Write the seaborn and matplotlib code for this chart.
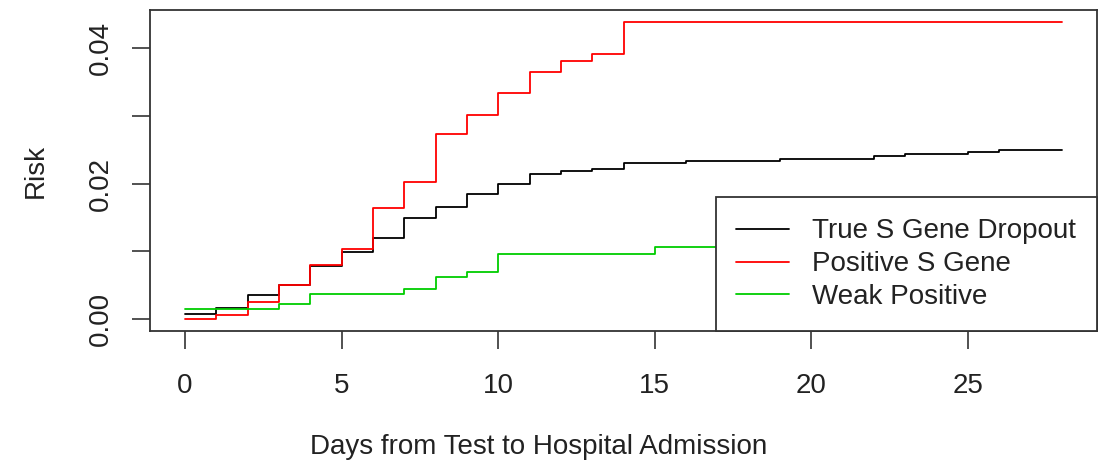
import numpy as np
import pandas as pd
import matplotlib
matplotlib.use("Agg")
import matplotlib.pyplot as plt
import seaborn as sns

days = list(range(0, 29))
series_names = ["True S Gene Dropout", "Positive S Gene", "Weak Positive"]
true_dropout = [0.00074, 0.0016, 0.0036, 0.0051, 0.0079, 0.0099, 0.0120, 0.0149,
                0.0166, 0.0184, 0.0200, 0.0214, 0.0218, 0.0221, 0.0230, 0.0230,
                0.0234, 0.0234, 0.0234, 0.0236, 0.0236, 0.0236, 0.0240, 0.0243,
                0.0243, 0.0247, 0.0250, 0.0250, 0.0250]
positive_s = [0.0000, 0.0006, 0.00255, 0.0051, 0.0080, 0.0103, 0.0164, 0.0203,
              0.0273, 0.0301, 0.0334, 0.0364, 0.0381, 0.0391, 0.0438, 0.0438,
              0.0438, 0.0438, 0.0438, 0.0438, 0.0438, 0.0438, 0.0438, 0.0438,
              0.0438, 0.0438, 0.0438, 0.0438, 0.0438]
weak_positive = [0.00143, 0.00143, 0.00143, 0.00217, 0.00365, 0.00365, 0.00365, 0.00443,
                 0.00624, 0.00698, 0.0096, 0.0096, 0.0096, 0.0096, 0.0096, 0.01067,
                 0.01067, 0.01067, 0.01067, 0.01067, 0.01067, 0.01067, 0.01067, 0.01067,
                 0.01067, 0.01067, 0.01067, 0.01067, 0.01067]
y_ticks = [0.00, 0.01, 0.02, 0.03, 0.04]
y_tick_labels = ["0.00", "", "0.02", "", "0.04"]
x_ticks = [0, 5, 10, 15, 20, 25]
colors = ["#000000", "#FF0000", "#00CD00"]

df = pd.DataFrame({
    "day": days * 3,
    "risk": true_dropout + positive_s + weak_positive,
    "group": [series_names[0]] * len(days) + [series_names[1]] * len(days) + [series_names[2]] * len(days),
})

sns.set_theme(style="ticks")
plt.rcParams["font.family"] = ["Liberation Sans", "DejaVu Sans"]
fs = 20

fig = plt.figure(figsize=(11.02, 4.63), dpi=100)
ax = fig.add_axes([150 / 1102, 132 / 463, 947 / 1102, 321 / 463])

sns.lineplot(data=df, x="day", y="risk", hue="group", hue_order=series_names,
             palette=colors, estimator=None, drawstyle="steps-post",
             linewidth=1.3, ax=ax, legend=True)

ax.set_xlim(-1.12, 29.12)
ax.set_ylim(-0.00175, 0.0456)
ax.set_xticks(x_ticks)
ax.set_xticklabels([str(t) for t in x_ticks])
ax.set_yticks(y_ticks)
ax.set_yticklabels(y_tick_labels, rotation=90, va="center")
ax.tick_params(axis="both", direction="out", length=13, width=1.1,
               labelsize=fs, colors="#222222", labelcolor="#222222")
ax.tick_params(axis="x", pad=17)
ax.tick_params(axis="y", pad=13)
for s in ax.spines.values():
    s.set_visible(True)
    s.set_color("#333333")
    s.set_linewidth(1.3)

ax.set_xlabel("Days from Test to Hospital Admission", fontsize=fs, color="#222222")
ax.set_ylabel("Risk", fontsize=fs, color="#222222")
ax.xaxis.set_label_coords(0.41, -0.36)
ax.xaxis.label.set_verticalalignment("center")
ax.yaxis.set_label_coords(-0.121, 0.5)
ax.yaxis.label.set_verticalalignment("center")

handles, labels = ax.get_legend_handles_labels()
leg = ax.legend(handles, labels, loc="lower right", fontsize=fs, frameon=True,
                fancybox=False, framealpha=1, edgecolor="#333333",
                borderaxespad=0, borderpad=0.75, labelspacing=0.25,
                handlelength=1.88, handletextpad=0.85)
leg.get_frame().set_linewidth(1.3)
for t in leg.get_texts():
    t.set_color("#222222")

fig.savefig("out.png", dpi=100, facecolor="white")
